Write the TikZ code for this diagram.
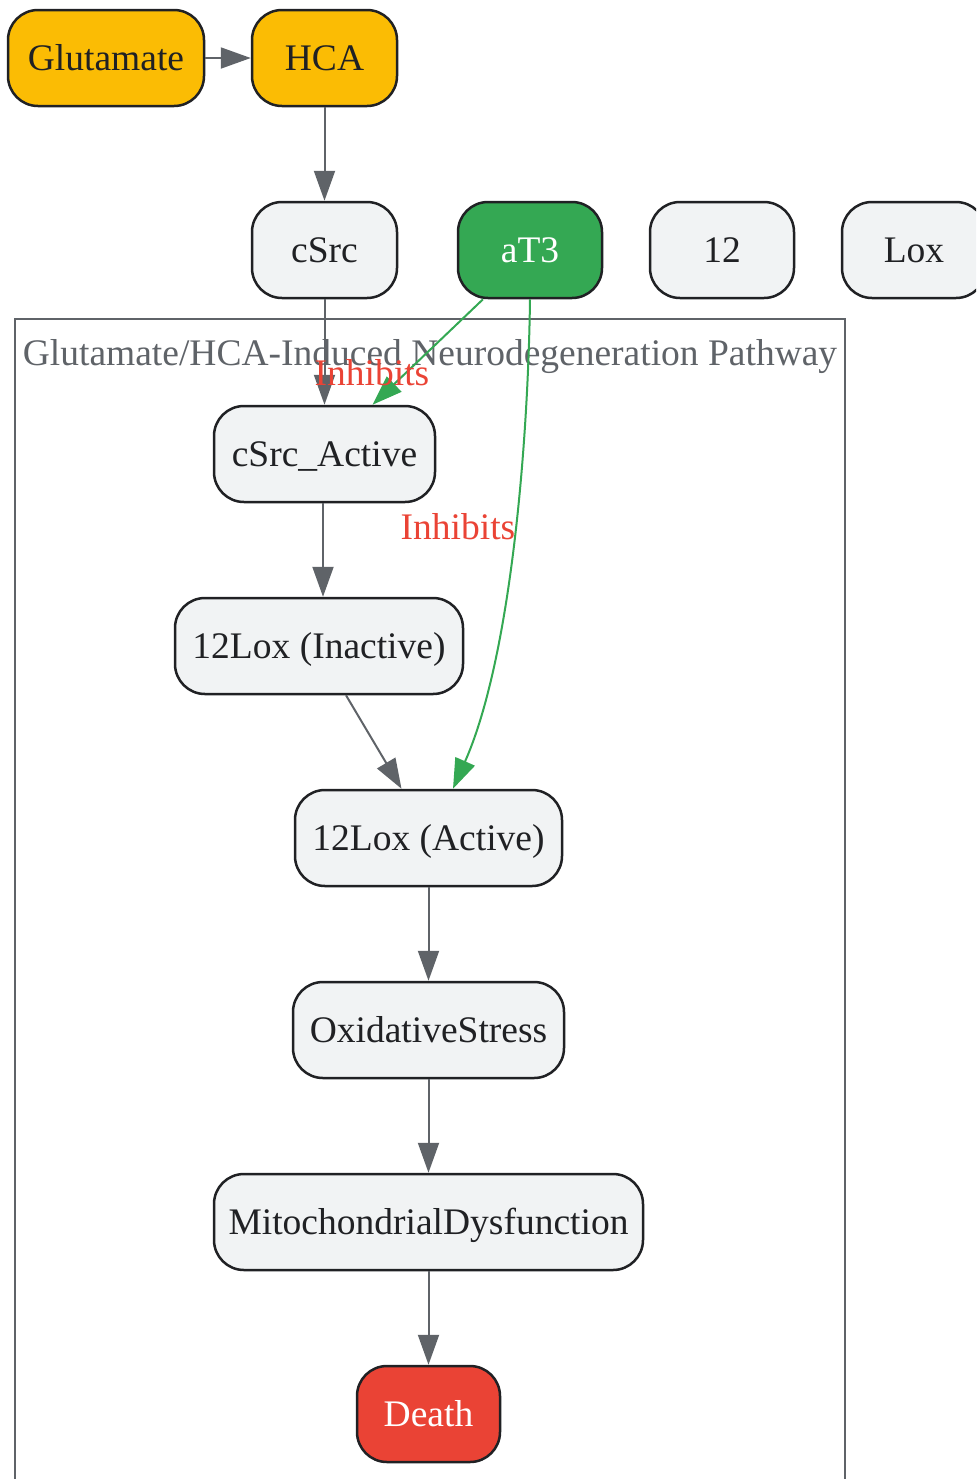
\documentclass[tikz,border=0pt]{standalone}
\usepackage{fontspec}
\setmainfont{Liberation Serif}
\usetikzlibrary{arrows.meta}
\definecolor{gyellow}{HTML}{FBBC04}
\definecolor{ggreen}{HTML}{34A853}
\definecolor{gred}{HTML}{EA4335}
\definecolor{glight}{HTML}{F1F3F4}
\definecolor{gdark}{HTML}{202124}
\definecolor{ggray}{HTML}{5F6368}
\tikzset{
  txt/.style={inner sep=0pt, text height=15pt, text depth=2.3pt, font=\fontsize{18.75pt}{22pt}\selectfont},
  box/.style={txt, draw=gdark, line width=1.25pt, rounded corners=15pt, fill=glight,
    text=gdark, minimum height=48pt},
  yel/.style={box, fill=gyellow},
  grn/.style={box, fill=ggreen, text=white},
  rd/.style={box, fill=gred, text=white},
  edge/.style={draw=ggray, line width=1pt, -{Triangle[length=15pt,width=10.5pt]}},
  gedge/.style={draw=ggreen, line width=1pt, -{Triangle[length=15pt,width=10.5pt]}},
  lbl/.style={txt, text=gred},
}
\begin{document}
\begin{tikzpicture}[x=0.5pt,y=-0.5pt]
\useasboundingbox (0,0) rectangle (976,1479);
\clip (0,0) rectangle (976,1479);
% cluster
\draw[ggray, line width=1pt] (15,1520) -- (15,319) -- (845,319) -- (845,1520);
\node[txt, text=ggray] (title) at (430,353) {Glutamate/HCA-Induced Neurodegeneration Pathway};
% nodes
\node[yel, minimum width=98pt] (glu) at (106,58) {Glutamate};
\node[yel, minimum width=72.5pt] (hca) at (324.5,58) {HCA};
\node[box, minimum width=72.5pt] (csrc) at (324.5,250) {cSrc};
\node[grn, minimum width=72pt] (at3) at (530,250) {aT3};
\node[box, minimum width=72pt] (n12) at (722,250) {12};
\node[box, minimum width=72pt] (lox) at (914,250) {Lox};
\node[box, minimum width=110.5pt] (csa) at (324.5,454) {cSrc\_Active};
\node[box, minimum width=144pt] (loxi) at (319,646) {12Lox (Inactive)};
\node[box, minimum width=133.5pt] (loxa) at (428.5,838) {12Lox (Active)};
\node[box, minimum width=135.5pt] (ox) at (428.5,1030) {OxidativeStress};
\node[box, minimum width=214.5pt] (mito) at (428.5,1222) {MitochondrialDysfunction};
\node[rd, minimum width=71.5pt] (death) at (428.5,1414) {Death};
% edges
\draw[edge] (glu) -- (hca);
\draw[edge] (hca) -- (csrc);
\draw[edge] (csrc) -- (csa);
\draw[edge] (csa.south) ++(-1.5,0) coordinate (a1) -- (loxi.north -| a1) ;
\draw[edge] ([xshift=13.5pt]loxi.south) -- ([xshift=-13.5pt]loxa.north);
\draw[edge] (loxa) -- (ox);
\draw[edge] (ox) -- (mito);
\draw[edge] (mito) -- (death);
\draw[gedge] ([xshift=-23.5pt]at3.south) -- ([xshift=24pt]csa.north);
\draw[gedge] (at3.south) .. controls (528,450) and (510,660) .. ([xshift=12.25pt]loxa.north);
\node[lbl] (l1) at (372,373) {Inhibits};
\node[lbl] (l2) at (458,527) {Inhibits};
\end{tikzpicture}
\end{document}
